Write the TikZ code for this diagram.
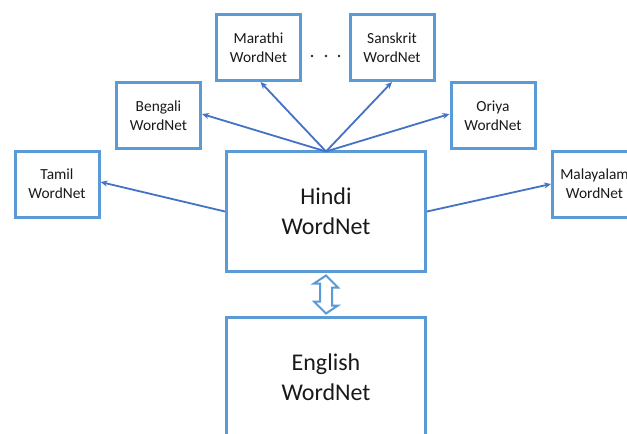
\documentclass[tikz,border=0pt]{standalone}
\usepackage{fontspec}
\setmainfont{Carlito}
\usetikzlibrary{arrows.meta}
\definecolor{boxblue}{HTML}{5B9BD5}
\definecolor{arrblue}{HTML}{4472C4}
\tikzset{
  smallbox/.style={draw=boxblue, line width=3pt, fill=white, minimum width=84pt, minimum height=66pt, inner sep=0pt, align=center, font=\fontsize{15.4}{19}\selectfont, text=black!90},
  bigbox/.style={draw=boxblue, line width=3pt, fill=white, minimum width=199pt, minimum height=120pt, inner sep=0pt, align=center, font=\fontsize{24}{30}\selectfont, text=black!90},
  conn/.style={draw=arrblue, line width=1.8pt, -{Stealth[length=7pt,width=6pt]}},
  dbl/.style={draw=boxblue, line width=2pt, fill=white, line join=miter}
}
\begin{document}
\begin{tikzpicture}[x=1pt,y=-1pt]
\clip (0,0) rectangle (627,434);
\fill[white] (0,0) rectangle (627,434);
\node[bigbox] (hindi) at (326,211.5) {Hindi\\WordNet};
\node[bigbox] (english) at (326,377.5) {English\\WordNet};
\node[smallbox] (marathi) at (258.5,47.5) {Marathi\\WordNet};
\node[smallbox] (sanskrit) at (392,47.5) {Sanskrit\\WordNet};
\node[smallbox] (bengali) at (158.5,115.5) {Bengali\\WordNet};
\node[smallbox] (oriya) at (493,115.5) {Oriya\\WordNet};
\node[smallbox] (tamil) at (57,184) {Tamil\\WordNet};
\node[smallbox] (malayalam) at (594.5,184) {Malayalam\\WordNet};
\foreach \x in {312,326,339} \fill[black!85] (\x,56) circle (1.4);
\coordinate (top) at ([yshift=-1.5pt]hindi.north);
\draw[conn] (top) -- ([xshift=2pt]marathi.south);
\draw[conn] (top) -- (sanskrit.south);
\draw[conn] (top) -- ([yshift=1.5pt]bengali.east);
\draw[conn] (top) -- ([yshift=1.5pt]oriya.west);
\draw[conn] (hindi.west) -- ([yshift=2pt]tamil.east);
\draw[conn] (hindi.east) -- (malayalam.west);
\path (hindi.south) ++(0,2.5) coordinate (dtop);
\path (english.north) ++(0,-2.5) coordinate (dbot);
\draw[dbl] (dtop) -- ++(12,12) -- ++(-6,0) -- ++(0,18) -- ++(6,0) -- (dbot) -- ++(-12,-12) -- ++(6,0) -- ++(0,-18) -- ++(-6,0) -- cycle;
\end{tikzpicture}
\end{document}
